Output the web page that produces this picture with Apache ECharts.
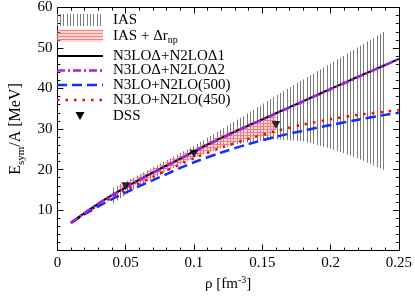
<!DOCTYPE html>
<html>
<head>
<meta charset="utf-8">
<script src="https://cdn.jsdelivr.net/npm/echarts@6/dist/echarts.min.js"></script>
<style>html,body{margin:0;padding:0;background:#fff}#c{width:415px;height:297px}</style>
</head>
<body>
<div id="c"></div>
<script>
// ---- data ----
const rho = [0.01,0.02,0.03,0.04,0.05,0.06,0.07,0.08,0.09,0.10,0.12,0.14,0.16,0.18,0.20,0.22,0.24,0.25];
const deltaOne = [6.9,9.3,11.6,13.7,15.6,17.5,19.3,21.0,22.7,24.5,27.8,30.9,33.9,36.9,39.9,42.9,45.8,47.3];
const deltaTwo = [6.9,9.3,11.6,13.7,15.6,17.4,19.2,20.9,22.6,24.4,27.7,30.8,33.8,36.8,39.8,42.8,45.8,47.3];
const lo500 = [6.8,9.0,10.9,12.7,14.3,15.9,17.4,18.9,20.4,21.8,24.2,26.3,28.1,29.6,31.0,32.3,33.5,34.0];
const lo450 = [6.9,9.1,11.2,13.1,14.9,16.6,18.2,19.8,21.3,22.8,25.4,27.6,29.5,31.1,32.4,33.5,34.3,34.7];

const iasRho  = [0.04,0.06,0.08,0.10,0.12,0.14,0.16,0.18,0.20,0.22,0.24];
const iasLow  = [11.5,16.0,19.5,23.0,25.3,26.8,27.5,27.0,25.2,22.8,19.8];
const iasHigh = [15.3,18.8,22.3,25.9,29.9,34.0,38.2,42.2,46.2,50.2,54.2];

const npRho  = [0.045,0.06,0.08,0.10,0.12,0.14,0.16];
const npLow  = [14.4,16.6,19.8,23.0,25.6,27.5,28.7];
const npHigh = [15.9,18.5,21.9,25.2,28.5,31.3,33.9];

const dssRho = [0.05,0.10,0.16];
const dssVal = [15.9,23.9,31.0];

const xTicks = ['0','0.05','0.1','0.15','0.2','0.25'];
const yTicks = ['10','20','30','40','50','60'];

// ---- hatch patterns ----
function pattern(w,h,draw){const c=document.createElement('canvas');c.width=w;c.height=h;draw(c.getContext('2d'));return c;}
const vHatch = pattern(10,2,ctx=>{ctx.fillStyle='#7a7a7a';[0,3,7].forEach(x=>ctx.fillRect(x,0,1,2));});
const hHatch = pattern(2,3,ctx=>{ctx.fillStyle='rgba(255,170,170,0.45)';ctx.fillRect(0,0,2,3);ctx.fillStyle='#ff7a7a';ctx.fillRect(0,0,2,1);});

const FONT = "'Liberation Serif', 'DejaVu Serif', serif";
const chart = echarts.init(document.getElementById('c'), null, {renderer:'canvas'});

const pairs = (xs, ys) => xs.map((x,i)=>[x, ys[i]]);

function bandSeries(name, xs, lo, hi, img, z){
  return {
    type:'custom', name, z, silent:true, clip:true,
    data: xs.map((x,i)=>[x, lo[i], hi[i]]),
    encode:{x:0, y:[1,2]},
    renderItem:(params, api)=>{
      if (params.dataIndex !== 0) return null;
      const top = xs.map((x,i)=>api.coord([x, hi[i]]));
      const bot = xs.map((x,i)=>api.coord([x, lo[i]])).reverse();
      return {type:'polygon', shape:{points: top.concat(bot)}, style:{fill:{image:img, repeat:'repeat'}, stroke:null}};
    }
  };
}

const axisCommon = {
  axisLine:{show:true,onZero:false,lineStyle:{color:'#000',width:1}},
  axisTick:{show:true,inside:true,length:6,lineStyle:{color:'#000',width:1}},
  minorTick:{show:true,splitNumber:5,length:3,lineStyle:{color:'#000',width:1}},
  splitLine:{show:false}
};

const option = {
  animation:false,
  grid:{left:41,right:14,top:7,bottom:39,containLabel:false},
  xAxis:[
    Object.assign({type:'value',min:0,max:0.25,interval:0.05,position:'bottom',
      name:'{a|ρ [fm}{s|-3}{a|]}',nameLocation:'middle',nameGap:23,
      nameTextStyle:{rich:{a:{fontFamily:FONT,fontSize:15,color:'#000'},s:{fontFamily:FONT,fontSize:10,color:'#000',verticalAlign:'top',padding:[0,0,8,0]}}},
      axisLabel:{show:true,margin:5,color:'#000',fontFamily:FONT,fontSize:15,formatter:(v)=>{const i=Math.round(v/0.05);return xTicks[i]!==undefined?xTicks[i]:'';}}}, axisCommon),
    Object.assign({type:'value',min:0,max:0.25,interval:0.05,position:'top',axisLabel:{show:false}}, axisCommon)
  ],
  yAxis:[
    Object.assign({type:'value',min:0,max:60,interval:10,position:'left',
      name:'{a|E}{s|sym}{a|/A [MeV]}',nameLocation:'middle',nameGap:24,
      nameTextStyle:{rich:{a:{fontFamily:FONT,fontSize:16,color:'#000'},s:{fontFamily:FONT,fontSize:11,color:'#000',padding:[10,0,0,0]}}},
      axisLabel:{show:true,margin:5,color:'#000',fontFamily:FONT,fontSize:15,formatter:(v)=>{const i=Math.round(v/10)-1;return i>=0&&yTicks[i]?yTicks[i]:'';}}}, axisCommon),
    Object.assign({type:'value',min:0,max:60,interval:10,position:'right',axisLabel:{show:false}}, axisCommon)
  ],
  series:[
    bandSeries('IAS', iasRho, iasLow, iasHigh, vHatch, 1),
    bandSeries('IAS + Δr', npRho, npLow, npHigh, hHatch, 2),
    {type:'line',name:'N3LO+N2LO(500)',data:pairs(rho,lo500),symbol:'none',smooth:0.3,
      lineStyle:{color:'#1030ff',width:2.5,type:[10,5]},z:3},
    {type:'line',name:'N3LO+N2LO(450)',data:pairs(rho,lo450),symbol:'none',smooth:0.3,
      lineStyle:{color:'#ff0000',width:2.5,type:[2.5,6]},z:4},
    {type:'line',name:'N3LOΔ+N2LOΔ1',data:pairs(rho,deltaOne),symbol:'none',smooth:0.3,
      lineStyle:{color:'#000',width:2},z:5},
    {type:'line',name:'N3LOΔ+N2LOΔ2',data:pairs(rho,deltaTwo),symbol:'none',smooth:0.3,
      lineStyle:{color:'#a020f0',width:2.5,type:[8,3,2,3]},z:6},
    {type:'scatter',name:'DSS',data:pairs(dssRho,dssVal),symbol:'triangle',symbolRotate:180,symbolSize:[9,8],
      itemStyle:{color:'#000'},z:7}
  ],
  graphic:[
    {type:'rect',shape:{x:57,y:14,width:46,height:12},style:{fill:{image:vHatch,repeat:'repeat'}},z:10},
    {type:'rect',shape:{x:57,y:30,width:46,height:12},style:{fill:{image:hHatch,repeat:'repeat'}},z:10},
    {type:'line',shape:{x1:57,y1:56,x2:103,y2:56},style:{stroke:'#000',lineWidth:2},z:10},
    {type:'line',shape:{x1:57,y1:70.5,x2:103,y2:70.5},style:{stroke:'#a020f0',lineWidth:2.5,lineDash:[8,3,2,3]},z:10},
    {type:'line',shape:{x1:57,y1:85,x2:103,y2:85},style:{stroke:'#1030ff',lineWidth:2.5,lineDash:[10,5]},z:10},
    {type:'line',shape:{x1:57,y1:100,x2:103,y2:100},style:{stroke:'#ff0000',lineWidth:2.5,lineDash:[2.5,6]},z:10},
    {type:'polygon',shape:{points:[[75.5,112],[84.5,112],[80,120]]},style:{fill:'#000'},z:10},
    {type:'text',x:113,y:20,style:{text:'IAS',font:"15px 'Liberation Serif'",fill:'#000',verticalAlign:'middle'},z:10},
    {type:'text',x:113,y:36,style:{text:'{a|IAS + Δr}{s|np}',verticalAlign:'middle',
      rich:{a:{fontFamily:FONT,fontSize:15,fill:'#000'},s:{fontFamily:FONT,fontSize:10,fill:'#000',padding:[9,0,0,0]}}},z:10},
    {type:'text',x:113,y:56,style:{text:'N3LOΔ+N2LOΔ1',font:"15px 'Liberation Serif'",fill:'#000',verticalAlign:'middle'},z:10},
    {type:'text',x:113,y:70.5,style:{text:'N3LOΔ+N2LOΔ2',font:"15px 'Liberation Serif'",fill:'#000',verticalAlign:'middle'},z:10},
    {type:'text',x:113,y:85,style:{text:'N3LO+N2LO(500)',font:"15px 'Liberation Serif'",fill:'#000',verticalAlign:'middle'},z:10},
    {type:'text',x:113,y:100,style:{text:'N3LO+N2LO(450)',font:"15px 'Liberation Serif'",fill:'#000',verticalAlign:'middle'},z:10},
    {type:'text',x:113,y:116,style:{text:'DSS',font:"15px 'Liberation Serif'",fill:'#000',verticalAlign:'middle'},z:10}
  ]
};
chart.setOption(option);
</script>
</body>
</html>
